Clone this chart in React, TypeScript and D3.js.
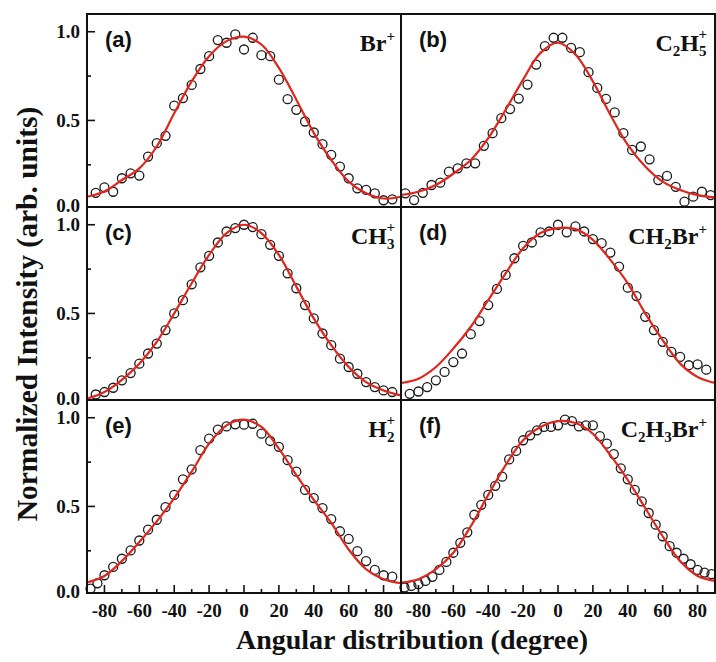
import React from "react";
import * as d3 from "d3";

// ---- data ----
const ANG35 = [-85,-80,-75,-70,-65,-60,-55,-50,-45,-40,-35,-30,-25,-20,-15,-10,-5,0,5,10,15,20,25,30,35,40,45,50,55,60,65,70,75,80,85];
const ANG36 = [-87.5,-82.5,-77.5,-72.5,-67.5,-62.5,-57.5,-52.5,-47.5,-42.5,-37.5,-32.5,-27.5,-22.5,-17.5,-12.5,-7.5,-2.5,2.5,7.5,12.5,17.5,22.5,27.5,32.5,37.5,42.5,47.5,52.5,57.5,62.5,67.5,72.5,77.5,82.5,87.5];
const ANG36E = [-88,-84,-80,-75,-70,-65,-60,-55,-50,-45,-40,-35,-30,-25,-20,-15,-10,-5,0,5,10,15,20,25,30,35,40,45,50,55,60,65,70,75,80,85];
const ANG45 = [-88,-84,-80,-76,-72,-68,-64,-60,-56,-52,-48,-44,-40,-36,-32,-28,-24,-20,-16,-12,-8,-4,0,4,8,12,16,20,24,28,32,36,40,44,48,52,56,60,64,68,72,76,80,84,88];
const FIT_ANG = [-90,-80,-70,-60,-50,-40,-30,-20,-10,0,10,20,30,40,50,60,70,80,90];

const A_VALS = [0.092,0.123,0.098,0.174,0.202,0.189,0.296,0.372,0.413,0.583,0.626,0.70,0.79,0.862,0.953,0.938,0.985,0.90,0.966,0.868,0.862,0.73,0.62,0.56,0.494,0.432,0.366,0.306,0.24,0.174,0.117,0.108,0.089,0.05,0.055];
const B_VALS = [0.089,0.051,0.092,0.136,0.149,0.211,0.23,0.258,0.258,0.357,0.428,0.513,0.564,0.623,0.702,0.815,0.919,0.966,0.966,0.909,0.885,0.772,0.683,0.621,0.545,0.428,0.334,0.353,0.281,0.164,0.187,0.126,0.042,0.07,0.098,0.079];
const C_VALS = [0.043,0.057,0.081,0.123,0.164,0.217,0.274,0.33,0.406,0.5,0.575,0.664,0.76,0.825,0.9,0.962,0.981,1.0,0.987,0.947,0.887,0.825,0.726,0.642,0.547,0.472,0.387,0.321,0.245,0.198,0.16,0.113,0.085,0.066,0.057];
const D_VALS = [0.047,0.06,0.085,0.123,0.17,0.226,0.274,0.383,0.457,0.547,0.638,0.717,0.811,0.881,0.9,0.957,0.962,1.0,0.957,0.991,0.962,0.919,0.896,0.843,0.764,0.645,0.598,0.481,0.406,0.34,0.283,0.255,0.208,0.213,0.183];
const E_VALS = [0.037,0.067,0.112,0.159,0.205,0.252,0.308,0.369,0.425,0.496,0.565,0.653,0.709,0.817,0.882,0.933,0.951,0.963,0.961,0.966,0.91,0.869,0.836,0.761,0.696,0.593,0.547,0.491,0.429,0.36,0.317,0.248,0.192,0.142,0.112,0.104];
const F_VALS = [0.043,0.052,0.062,0.08,0.103,0.142,0.187,0.239,0.295,0.354,0.453,0.509,0.565,0.616,0.668,0.765,0.813,0.873,0.901,0.929,0.948,0.948,0.957,0.989,0.981,0.951,0.957,0.957,0.896,0.854,0.795,0.715,0.653,0.593,0.528,0.463,0.397,0.332,0.276,0.239,0.205,0.174,0.142,0.127,0.118];

const A_FIT = [0.07,0.10,0.164,0.23,0.353,0.54,0.72,0.862,0.947,0.972,0.928,0.796,0.617,0.43,0.277,0.155,0.09,0.06,0.07];
const B_FIT = [0.08,0.098,0.136,0.2,0.277,0.4,0.56,0.73,0.881,0.938,0.872,0.72,0.532,0.362,0.24,0.155,0.108,0.079,0.066];
const C_FIT = [0.019,0.057,0.126,0.217,0.34,0.5,0.67,0.83,0.953,1.0,0.953,0.83,0.651,0.472,0.321,0.198,0.113,0.066,0.038];
const D_FIT = [0.108,0.132,0.198,0.302,0.425,0.575,0.726,0.868,0.953,0.981,0.975,0.915,0.802,0.67,0.5,0.349,0.217,0.142,0.108];
const E_FIT = [0.071,0.108,0.192,0.299,0.416,0.547,0.696,0.854,0.957,0.989,0.948,0.826,0.677,0.537,0.407,0.257,0.146,0.09,0.067];
const F_FIT = [0.071,0.09,0.146,0.239,0.388,0.565,0.733,0.873,0.948,0.981,0.97,0.91,0.789,0.649,0.491,0.332,0.192,0.108,0.08];

const PANEL_TAGS = ["(a)", "(b)", "(c)", "(d)", "(e)", "(f)"];
const X_MAJOR = [-80, -60, -40, -20, 0, 20, 40, 60, 80];
const X_MINOR = [-70, -50, -30, -10, 10, 30, 50, 70];
const Y_MAJOR = [0.5, 1.0];
const Y_MINOR = [0.25, 0.75];
const Y_LABELS = ["0.0", "0.5", "1.0"];
const Y_LABEL_VALS = [0, 0.5, 1.0];

// species labels: parts [text, kind] kind: n normal, b sub, p sup, ps sup stacked over previous sub
type Part = [string, string];
const SPECIES: Part[][] = [
  [["Br", "n"], ["+", "p"]],
  [["C", "n"], ["2", "b"], ["H", "n"], ["5", "b"], ["+", "ps"]],
  [["CH", "n"], ["3", "b"], ["+", "ps"]],
  [["CH", "n"], ["2", "b"], ["Br", "n"], ["+", "p"]],
  [["H", "n"], ["2", "b"], ["+", "ps"]],
  [["C", "n"], ["2", "b"], ["H", "n"], ["3", "b"], ["Br", "n"], ["+", "p"]],
];

const SERIES = [
  { ang: ANG35, vals: A_VALS, fit: A_FIT },
  { ang: ANG36, vals: B_VALS, fit: B_FIT },
  { ang: ANG35, vals: C_VALS, fit: C_FIT },
  { ang: ANG35, vals: D_VALS, fit: D_FIT },
  { ang: ANG36E, vals: E_VALS, fit: E_FIT },
  { ang: ANG45, vals: F_VALS, fit: F_FIT },
];

const W = 716, H = 662;
const COL_X = [87, 401, 715];
const ROW_Y = [14, 207, 400, 593];
const SERIF = "'Liberation Serif', 'Times New Roman', serif";
const SANS = "'Liberation Sans', Arial, sans-serif";
const RED = "#e3241d";

function Species({ parts, x, y }: { parts: Part[]; x: number; y: number }) {
  return (
    <text x={x} y={y} textAnchor="end" fontFamily={SERIF} fontWeight="bold" fontSize={24} fill="#111">
      {parts.map((p, i) => {
        const [t, k] = p;
        if (k === "n") return <tspan key={i} dy={i > 0 && parts[i - 1][1] === "b" ? -5 : 0} fontSize={24}>{t}</tspan>;
        if (k === "b") return <tspan key={i} dy={5} fontSize={15}>{t}</tspan>;
        if (k === "p") return <tspan key={i} dy={-10} fontSize={15}>{t}</tspan>;
        return <tspan key={i} dx={-8} dy={-17} fontSize={15}>{t}</tspan>;
      })}
    </text>
  );
}

export default function App() {
  const panels = SERIES.map((s, i) => {
    const col = i % 2, row = Math.floor(i / 2);
    const x0 = COL_X[col], x1 = COL_X[col + 1];
    const y0 = ROW_Y[row], y1 = ROW_Y[row + 1];
    const xs = d3.scaleLinear().domain([-90, 90]).range([x0, x1]);
    const ys = d3.scaleLinear().domain([0.012, 1.1]).range([y1, y0]);
    const line = d3.line<number>()
      .x((_, j) => xs(FIT_ANG[j]))
      .y((v) => ys(v))
      .curve(d3.curveCatmullRom.alpha(0.5));
    return { s, i, col, row, x0, x1, y0, y1, xs, ys, path: line(s.fit) || "" };
  });

  return (
    <svg width={W} height={H} style={{ position: "absolute", left: 0, top: 0, background: "#fff" }}>
      <rect x={0} y={0} width={W} height={H} fill="#fff" />
      {panels.map((p) => (
        <g key={p.i}>
          {p.s.vals.map((v, j) => (
            <circle key={j} cx={p.xs(p.s.ang[j])} cy={p.ys(v)} r={4.5} fill="none" stroke="#1a1a1a" strokeWidth={1.3} />
          ))}
          <path d={p.path} fill="none" stroke={RED} strokeWidth={2.2} />
          <text x={p.x0 + 18} y={p.y0 + 33} fontFamily={SANS} fontWeight="bold" fontSize={22} fill="#111">{PANEL_TAGS[p.i]}</text>
          <Species parts={SPECIES[p.i]} x={p.x1 - (p.col === 0 ? 6 : 8)} y={p.y0 + 37} />
          {p.col === 0 && Y_MAJOR.map((t) => (
            <line key={"ym" + t} x1={p.x0} x2={p.x0 + 8} y1={p.ys(t)} y2={p.ys(t)} stroke="#111" strokeWidth={1.6} />
          ))}
          {p.col === 0 && Y_MINOR.map((t) => (
            <line key={"yn" + t} x1={p.x0} x2={p.x0 + 4} y1={p.ys(t)} y2={p.ys(t)} stroke="#111" strokeWidth={1.6} />
          ))}
          {p.col === 0 && Y_LABEL_VALS.map((t, k) => (
            <text key={"yl" + k} x={80} y={p.ys(t) - (t === 0 ? 3 : 0)} dy="0.33em" textAnchor="end" fontFamily={SERIF} fontWeight="bold" fontSize={19} fill="#111">{Y_LABELS[k]}</text>
          ))}
          {p.row === 2 && X_MAJOR.map((t) => (
            <line key={"xm" + t} x1={p.xs(t)} x2={p.xs(t)} y1={p.y1} y2={p.y1 - 8} stroke="#111" strokeWidth={1.6} />
          ))}
          {p.row === 2 && X_MINOR.map((t) => (
            <line key={"xn" + t} x1={p.xs(t)} x2={p.xs(t)} y1={p.y1} y2={p.y1 - 4} stroke="#111" strokeWidth={1.6} />
          ))}
          {p.row === 2 && X_MAJOR.map((t) => (
            <text key={"xl" + t} x={p.xs(t)} y={617} textAnchor="middle" fontFamily={SERIF} fontWeight="bold" fontSize={19} fill="#111">{String(t)}</text>
          ))}
          <rect x={p.x0} y={p.y0} width={p.x1 - p.x0} height={p.y1 - p.y0} fill="none" stroke="#111" strokeWidth={2} />
        </g>
      ))}
      <text x={412} y={649} textAnchor="middle" fontFamily={SERIF} fontWeight="bold" fontSize={28} fill="#111">Angular distribution (degree)</text>
      <text transform="translate(37,314) rotate(-90)" textAnchor="middle" fontFamily={SERIF} fontWeight="bold" fontSize={29.5} fill="#111">Normalized Intensity (arb. units)</text>
    </svg>
  );
}
